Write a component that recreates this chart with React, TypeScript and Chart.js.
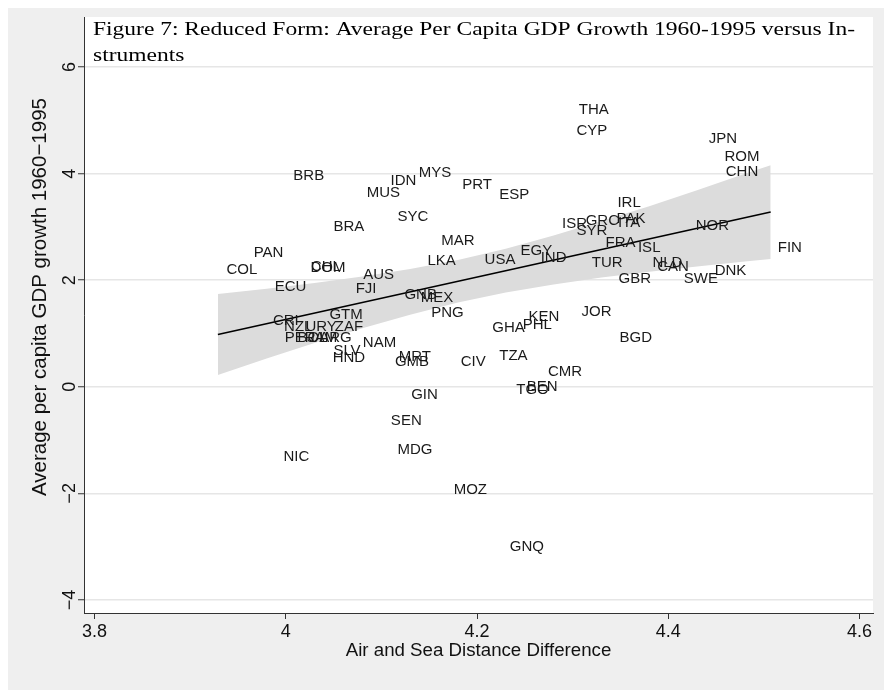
import React, { useEffect, useRef } from "react";
import { Chart, registerables } from "chart.js";

Chart.register(...registerables);

// ---------------- data ----------------
const countries = [
  "THA", "CYP", "JPN", "ROM", "CHN", "BRB", "MYS", "IDN", "PRT", "MUS",
  "ESP", "IRL", "SYC", "PAK", "GRC", "ITA", "ISR", "SYR", "NOR", "BRA",
  "MAR", "FRA", "ISL", "FIN", "EGY", "PAN", "IND", "USA", "LKA", "TUR",
  "NLD", "CAN", "DNK", "COL", "CHL", "DOM", "AUS", "SWE", "GBR", "ECU",
  "FJI", "GNB", "MEX", "PNG", "JOR", "GTM", "KEN", "CRI", "PHL", "NZL",
  "URY", "ZAF", "GHA", "PER", "BOL", "JAM", "ARG", "BGD", "NAM", "SLV",
  "HND", "TZA", "MRT", "GMB", "CIV", "CMR", "TGO", "BEN", "GIN", "SEN",
  "MDG", "NIC", "MOZ", "GNQ",
];

const distanceDiff = [
  4.322, 4.320, 4.457, 4.477, 4.477, 4.024, 4.156, 4.123, 4.200, 4.102,
  4.239, 4.359, 4.133, 4.361, 4.331, 4.359, 4.302, 4.320, 4.446, 4.066,
  4.180, 4.350, 4.380, 4.527, 4.262, 3.982, 4.280, 4.224, 4.163, 4.336,
  4.399, 4.405, 4.465, 3.954, 4.042, 4.044, 4.097, 4.434, 4.365, 4.005,
  4.084, 4.141, 4.158, 4.169, 4.325, 4.063, 4.270, 4.000, 4.263, 4.013,
  4.037, 4.066, 4.233, 4.015, 4.028, 4.038, 4.052, 4.366, 4.098, 4.064,
  4.066, 4.238, 4.135, 4.132, 4.196, 4.292, 4.258, 4.268, 4.145, 4.126,
  4.135, 4.011, 4.193, 4.252,
];

const gdpGrowth = [
  5.20, 4.81, 4.66, 4.32, 4.04, 3.96, 4.02, 3.87, 3.79, 3.64,
  3.61, 3.45, 3.19, 3.15, 3.12, 3.08, 3.06, 2.93, 3.02, 3.00,
  2.74, 2.70, 2.61, 2.61, 2.55, 2.52, 2.42, 2.38, 2.36, 2.33,
  2.33, 2.25, 2.18, 2.20, 2.25, 2.23, 2.10, 2.03, 2.03, 1.88,
  1.84, 1.73, 1.67, 1.39, 1.41, 1.35, 1.31, 1.24, 1.16, 1.12,
  1.12, 1.12, 1.11, 0.92, 0.92, 0.92, 0.92, 0.92, 0.82, 0.67,
  0.54, 0.58, 0.56, 0.47, 0.47, 0.28, -0.06, 0.00, -0.15, -0.64,
  -1.19, -1.32, -1.94, -3.01,
];

// fitted line and its confidence band
const fitX = [3.929, 4.507];
const fitY = [0.98, 3.28];
const bandX = [3.929, 3.98, 4.03, 4.08, 4.13, 4.18, 4.23, 4.28, 4.33, 4.38, 4.43, 4.48, 4.507];
const bandUpper = [1.74, 1.84, 1.95, 2.07, 2.21, 2.38, 2.59, 2.84, 3.11, 3.39, 3.69, 4.0, 4.16];
const bandLower = [0.22, 0.53, 0.82, 1.1, 1.35, 1.58, 1.77, 1.92, 2.05, 2.16, 2.26, 2.35, 2.4];

const xTicks = [3.8, 4, 4.2, 4.4, 4.6];
const yTicks = [-4, -2, 0, 2, 4, 6];
const yTickLabels = ["\u22124", "\u22122", "0", "2", "4", "6"];

const titleLines = [
  "Figure 7: Reduced Form: Average Per Capita GDP Growth 1960-1995 versus In-",
  "struments",
];
const xTitle = "Air and Sea Distance Difference";
const yTitle = "Average per capita GDP growth 1960\u22121995";

// ---------------- styling ----------------
const SANS = "'Liberation Sans', Arial, Helvetica, sans-serif";
const SERIF = "'Liberation Serif', 'Times New Roman', serif";
const W = 876;
const H = 698;

const decorPlugin = {
  id: "decor",
  beforeDraw(chart: any) {
    const { ctx, width, height, chartArea: a } = chart;
    ctx.save();
    ctx.fillStyle = "#efefef";
    ctx.fillRect(0, 0, width, height);
    ctx.fillStyle = "#ffffff";
    ctx.fillRect(a.left, a.top, a.right - a.left, a.bottom - a.top);
    ctx.restore();
  },
  afterDatasetsDraw(chart: any) {
    const { ctx } = chart;
    const meta = chart.getDatasetMeta(3);
    ctx.save();
    ctx.font = `15px ${SANS}`;
    ctx.fillStyle = "#1a1a1a";
    ctx.textAlign = "center";
    ctx.textBaseline = "middle";
    meta.data.forEach((el: any, i: number) => {
      ctx.fillText(countries[i], el.x, el.y);
    });
    ctx.restore();
  },
  afterDraw(chart: any) {
    const { ctx, chartArea: a } = chart;
    const ys = chart.scales.y;
    ctx.save();
    ctx.fillStyle = "#111111";
    ctx.textAlign = "center";
    ctx.textBaseline = "middle";
    // y tick labels, rotated
    ctx.font = `18px ${SANS}`;
    yTicks.forEach((v, i) => {
      const py = ys.getPixelForValue(v);
      ctx.save();
      ctx.translate(a.left - 14, py);
      ctx.rotate(-Math.PI / 2);
      ctx.fillText(yTickLabels[i], 0, 0);
      ctx.restore();
    });
    // y title
    ctx.font = `20.5px ${SANS}`;
    ctx.save();
    ctx.translate(32, 289);
    ctx.rotate(-Math.PI / 2);
    ctx.fillText(yTitle, 0, 0);
    ctx.restore();
    // x title
    ctx.font = `18.7px ${SANS}`;
    ctx.fillText(xTitle, (a.left + a.right) / 2, a.bottom + 38);
    // figure title (serif, within the plot's top)
    ctx.fillStyle = "#000000";
    ctx.font = `18px ${SERIF}`;
    ctx.textAlign = "left";
    const target = 762;
    const w = ctx.measureText(titleLines[0]).width;
    const sx = target / w;
    titleLines.forEach((line, i) => {
      ctx.save();
      ctx.translate(a.left + 9, a.top + 13 + i * 26);
      ctx.scale(sx, 1);
      ctx.fillText(line, 0, 0);
      ctx.restore();
    });
    ctx.restore();
  },
};

export default function App() {
  const ref = useRef<HTMLCanvasElement | null>(null);

  useEffect(() => {
    if (!ref.current) return;
    const lower = bandX.map((x, i) => ({ x, y: bandLower[i] }));
    const upper = bandX.map((x, i) => ({ x, y: bandUpper[i] }));
    const fit = fitX.map((x, i) => ({ x, y: fitY[i] }));
    const pts = distanceDiff.map((x, i) => ({ x, y: gdpGrowth[i] }));

    const chart = new Chart(ref.current, {
      type: "line",
      data: {
        datasets: [
          {
            data: lower,
            borderWidth: 0,
            borderColor: "rgba(0,0,0,0)",
            pointRadius: 0,
            fill: false,
            tension: 0,
          },
          {
            data: upper,
            borderWidth: 0,
            borderColor: "rgba(0,0,0,0)",
            backgroundColor: "#dcdcdc",
            pointRadius: 0,
            fill: "-1",
            tension: 0,
          },
          {
            data: fit,
            borderColor: "#000000",
            borderWidth: 1.6,
            pointRadius: 0,
            fill: false,
          },
          {
            data: pts,
            showLine: false,
            pointRadius: 0,
            pointHoverRadius: 0,
          },
        ],
      },
      options: {
        animation: false,
        responsive: false,
        devicePixelRatio: 1,
        layout: { padding: { top: 9, right: 11, left: 0, bottom: 0 } },
        plugins: {
          legend: { display: false },
          tooltip: { enabled: false },
          title: { display: false },
          filler: { drawTime: "beforeDatasetsDraw" },
        },
        events: [],
        scales: {
          x: {
            type: "linear",
            min: 3.789,
            max: 4.614,
            afterBuildTicks: (s: any) => {
              s.ticks = xTicks.map((v) => ({ value: v }));
            },
            afterFit: (s: any) => {
              s.height = H - 605;
            },
            ticks: {
              callback: (v: any) => String(Number(Number(v).toFixed(1))),
              font: { family: SANS, size: 18 },
              color: "#111111",
              padding: 2,
              maxRotation: 0,
              minRotation: 0,
              autoSkip: false,
            },
            grid: {
              drawOnChartArea: false,
              drawTicks: true,
              tickLength: 6,
              tickColor: "#333333",
              tickWidth: 1,
            },
            border: { display: true, color: "#333333", width: 1 },
          },
          y: {
            type: "linear",
            min: -4.245,
            max: 6.94,
            afterBuildTicks: (s: any) => {
              s.ticks = yTicks.map((v) => ({ value: v }));
            },
            afterFit: (s: any) => {
              s.width = 76;
            },
            ticks: { display: false },
            grid: {
              color: "#e6e6e6",
              lineWidth: 1.5,
              drawTicks: true,
              tickLength: 6,
              tickColor: "#333333",
              tickWidth: 1,
            },
            border: { display: true, color: "#333333", width: 1 },
          },
        },
      },
      plugins: [decorPlugin],
    } as any);

    return () => chart.destroy();
  }, []);

  return (
    <div style={{ width: W, height: H, marginBottom: -16, overflow: "hidden" }}>
      <canvas ref={ref} width={W} height={H} style={{ width: W, height: H, display: "block" }} />
    </div>
  );
}
